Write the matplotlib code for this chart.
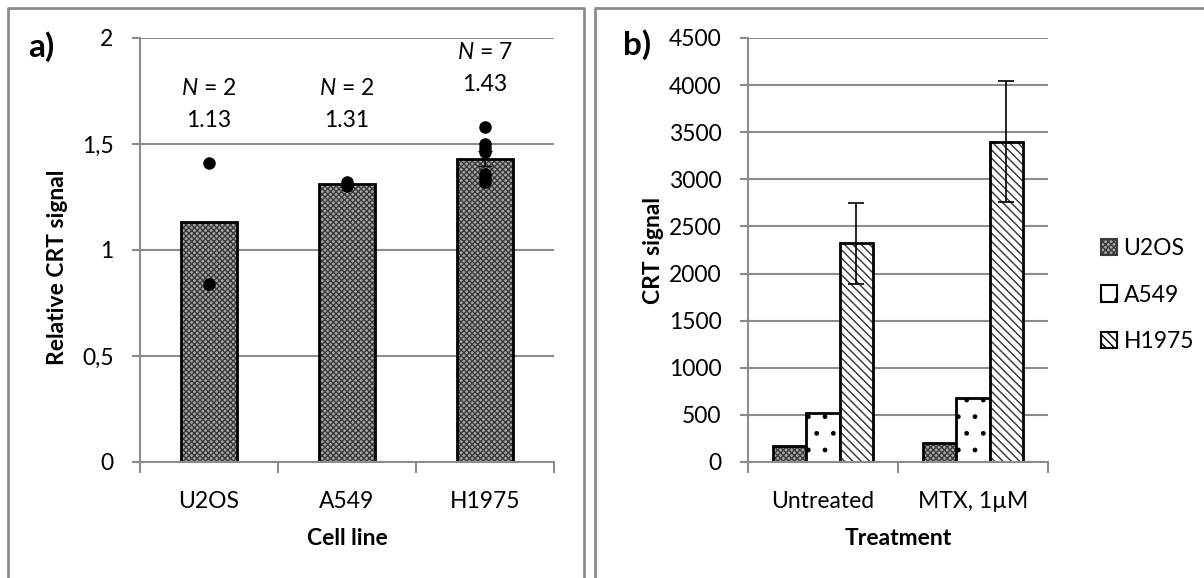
import matplotlib
matplotlib.use("Agg")
import matplotlib.pyplot as plt
from matplotlib.lines import Line2D
from matplotlib.patches import Patch
import numpy as np

# panel a: relative CRT signal per cell line
cell_lines = ["U2OS", "A549", "H1975"]
rel_mean = [1.13, 1.31, 1.43]
rel_n = [2, 2, 7]
rel_points = [
    [1.41, 0.84],
    [1.32, 1.30],
    [1.58, 1.50, 1.48, 1.46, 1.36, 1.34, 1.32],
]
rel_err = [None, None, 0.035]

# panel b: absolute CRT signal per treatment
treatments = ["Untreated", "MTX, 1µM"]
crt_u2os = [170, 200]
crt_a549 = [520, 680]
crt_h1975 = [2320, 3400]
crt_h1975_err = [430, 645]

plt.rcParams["font.family"] = ["Lato", "DejaVu Sans"]
plt.rcParams["mathtext.fontset"] = "custom"
plt.rcParams["mathtext.rm"] = "Lato"
plt.rcParams["mathtext.it"] = "Lato:italic"
plt.rcParams["hatch.linewidth"] = 1.0

GRID = "#8c8c8c"
FS = 16.5

fig = plt.figure(figsize=(12.04, 5.78), dpi=100)
W, H = 1204, 578


def px_axes(x0, x1, y0, y1):
    return fig.add_axes([x0 / W, 1 - y1 / H, (x1 - x0) / W, (y1 - y0) / H])


def style_axes(ax):
    ax.set_axisbelow(True)
    ax.grid(axis="y", color=GRID, linewidth=1.5)
    for s in ("top", "right"):
        ax.spines[s].set_visible(False)
    for s in ("left", "bottom"):
        ax.spines[s].set_color(GRID)
        ax.spines[s].set_linewidth(1.5)
    ax.tick_params(axis="both", colors=GRID, labelcolor="black", labelsize=FS,
                   length=6, width=1.5, direction="out")
    ax.tick_params(axis="y", pad=13)
    ax.tick_params(axis="x", bottom=False, pad=15)


def u2os_bar(ax, x, h, w):
    ax.bar(x, h, w, color="#a8a8a8", edgecolor="#3a3a3a", hatch="xxxxxx", linewidth=0)
    ax.bar(x, h, w, fill=False, edgecolor="black", linewidth=2)


# panel frames
fig.add_artist(Line2D([8 / W, 8 / W, 584 / W, 584 / W], [0, 1 - 8 / H, 1 - 8 / H, 0],
                      color=GRID, linewidth=2))
fig.add_artist(Line2D([595 / W, 595 / W, 1.0], [0, 1 - 8 / H, 1 - 8 / H],
                      color=GRID, linewidth=2))

# ---- panel a ----
ax_a = px_axes(140, 554, 38, 462)
style_axes(ax_a)
xa = np.arange(len(cell_lines))
u2os_bar(ax_a, xa, rel_mean, 0.4)
for i, pts in enumerate(rel_points):
    ax_a.plot([xa[i]] * len(pts), pts, "o", color="black", markersize=8, zorder=5)
    if rel_err[i] is not None:
        ax_a.errorbar(xa[i], rel_mean[i], yerr=rel_err[i], color="black",
                      linewidth=1.2, capsize=5, zorder=4)
label_y = [1.76, 1.76, 1.93]
for i in range(len(cell_lines)):
    ax_a.text(xa[i], label_y[i], f"$N$ = {rel_n[i]}", ha="center", va="center", fontsize=FS)
    ax_a.text(xa[i], label_y[i] - 0.15, f"{rel_mean[i]:.2f}", ha="center", va="center",
              fontsize=FS)
ax_a.set_xlim(-0.5, 2.5)
ax_a.set_ylim(0, 2)
ax_a.set_yticks([0, 0.5, 1, 1.5, 2])
ax_a.set_yticklabels(["0", "0,5", "1", "1,5", "2"])
ax_a.set_xticks(xa)
ax_a.set_xticklabels(cell_lines)
ax_a.set_xticks([-0.5, 0.5, 1.5, 2.5], minor=True)
ax_a.tick_params(axis="x", which="minor", length=8, width=1.5, color=GRID)
ax_a.set_xlabel("Cell line", fontsize=FS, fontweight="bold")
ax_a.xaxis.set_label_coords(0.5, -0.155)
ax_a.set_ylabel("Relative CRT signal", fontsize=FS, fontweight="bold")
ax_a.yaxis.set_label_coords(-0.175, 0.46)
fig.text(28 / W, 1 - 47 / H, "a)", fontsize=24, fontweight="bold", va="center")

# ---- panel b ----
ax_b = px_axes(748, 1048, 38, 462)
style_axes(ax_b)
xb = np.arange(len(treatments))
bw = 0.222
u2os_bar(ax_b, xb - bw, crt_u2os, bw)
ax_b.bar(xb, crt_a549, bw, color="white", edgecolor="black", hatch=".", linewidth=2)
ax_b.bar(xb + bw, crt_h1975, bw, color="white", edgecolor="#333333", hatch="\\\\\\\\",
         linewidth=0)
ax_b.bar(xb + bw, crt_h1975, bw, fill=False, edgecolor="black", linewidth=2)
ax_b.errorbar(xb + bw, crt_h1975, yerr=crt_h1975_err, fmt="none", ecolor="black",
              elinewidth=1.2, capsize=6, capthick=1.2, zorder=4)
ax_b.set_xlim(-0.5, 1.5)
ax_b.set_ylim(0, 4500)
ax_b.set_yticks(np.arange(0, 4501, 500))
ax_b.set_xticks(xb)
ax_b.set_xticklabels(treatments)
ax_b.set_xticks([-0.5, 0.5, 1.5], minor=True)
ax_b.tick_params(axis="x", which="minor", length=8, width=1.5, color=GRID)
ax_b.set_xlabel("Treatment", fontsize=FS, fontweight="bold")
ax_b.xaxis.set_label_coords(0.5, -0.155)
ax_b.set_ylabel("CRT signal", fontsize=FS, fontweight="bold")
ax_b.yaxis.set_label_coords(-0.28, 0.5)
fig.text(623 / W, 1 - 45 / H, "b)", fontsize=24, fontweight="bold", va="center")

handles = [
    Patch(facecolor="#a8a8a8", edgecolor="#3a3a3a", hatch="xxxxxx", linewidth=1.5),
    Patch(facecolor="white", edgecolor="black", hatch=".", linewidth=1.5),
    Patch(facecolor="white", edgecolor="black", hatch="\\\\\\\\", linewidth=1.5),
]
fig.legend(handles, ["U2OS", "A549", "H1975"], loc="center left",
           bbox_to_anchor=(1080 / W, 1 - 295 / H), frameon=False, fontsize=FS,
           handlelength=0.7, handleheight=0.7, handletextpad=0.3, labelspacing=1.1)

fig.savefig("out.png", dpi=100)
